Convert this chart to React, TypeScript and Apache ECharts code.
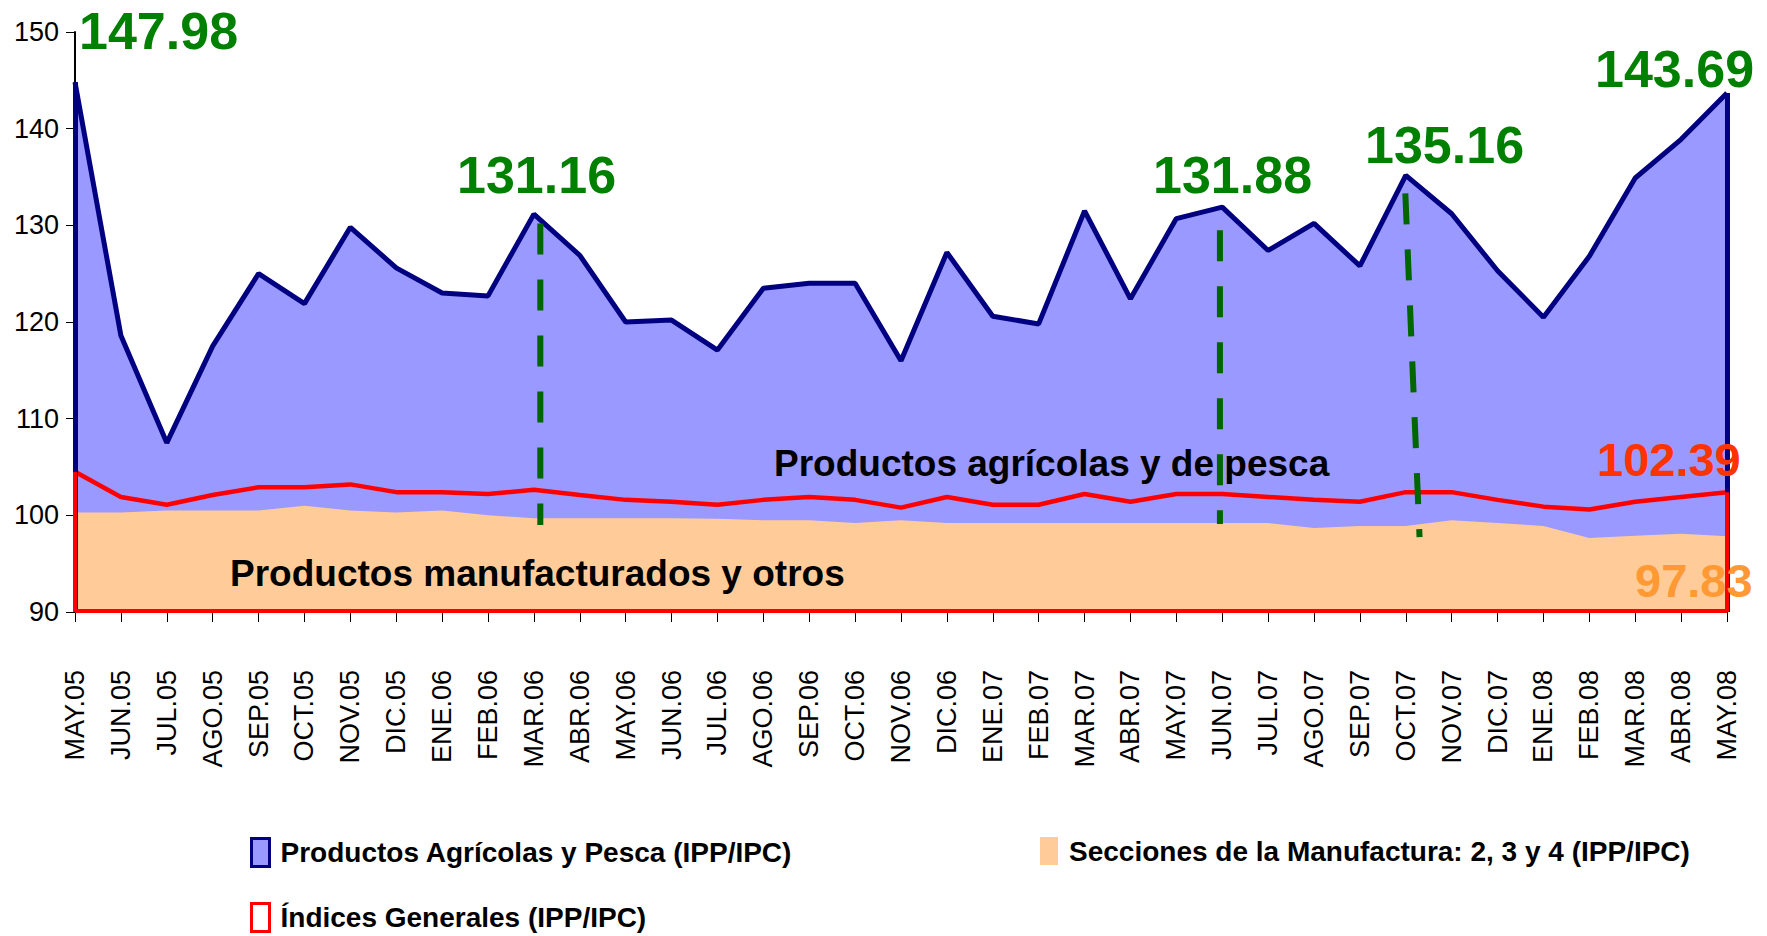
import React, { useEffect, useRef } from 'react';
import * as echarts from 'echarts';

const categories = ['MAY.05','JUN.05','JUL.05','AGO.05','SEP.05','OCT.05','NOV.05','DIC.05','ENE.06','FEB.06','MAR.06','ABR.06','MAY.06','JUN.06','JUL.06','AGO.06','SEP.06','OCT.06','NOV.06','DIC.06','ENE.07','FEB.07','MAR.07','ABR.07','MAY.07','JUN.07','JUL.07','AGO.07','SEP.07','OCT.07','NOV.07','DIC.07','ENE.08','FEB.08','MAR.08','ABR.08','MAY.08'];

const agricola = [144.8,118.6,107.5,117.5,125.0,121.9,129.8,125.6,123.0,122.7,131.16,126.9,120.0,120.2,117.1,123.5,124.0,124.0,116.0,127.2,120.6,119.8,131.5,122.4,130.7,131.88,127.4,130.2,125.8,135.16,131.2,125.3,120.5,126.8,134.9,138.9,143.69];

const manufactura = [100.3,100.3,100.5,100.5,100.5,101.0,100.5,100.3,100.5,100.0,99.7,99.7,99.7,99.7,99.65,99.5,99.5,99.2,99.5,99.2,99.2,99.2,99.2,99.2,99.2,99.2,99.2,98.7,98.9,98.9,99.5,99.2,98.9,97.65,97.9,98.1,97.83];

const generales = [104.5,101.9,101.1,102.1,102.9,102.9,103.2,102.4,102.4,102.2,102.65,102.1,101.6,101.4,101.1,101.6,101.9,101.6,100.8,101.9,101.1,101.1,102.2,101.4,102.2,102.2,101.9,101.6,101.4,102.4,102.4,101.6,100.9,100.6,101.4,101.9,102.39];

const seriesNames = [
  'Productos Agrícolas y Pesca (IPP/IPC)',
  'Secciones de la Manufactura: 2, 3 y 4 (IPP/IPC)',
  'Índices Generales (IPP/IPC)',
];

// dashed guide lines: [categoryIndex, value] pairs
const guideLines = [
  [[10.14, 130.2], [10.14, 99.0]],
  [[24.95, 129.5], [24.95, 99.1]],
  [[28.99, 133.3], [29.3, 97.75]],
];

const greenCallouts = ['147.98', '131.16', '131.88', '135.16', '143.69'];
const redCallout = '102.39';
const orangeCallout = '97.83';
const areaLabels = ['Productos agrícolas y de pesca', 'Productos manufacturados y otros'];

const Y_MIN = 90;
const Y_MAX = 150;
const Y_STEP = 10;

const sans = "'Liberation Sans', Arial, sans-serif";

export default function App() {
  const ref = useRef<HTMLDivElement>(null);
  useEffect(() => {
    if (!ref.current) return;
    const chart = echarts.init(ref.current, undefined, { renderer: 'svg' });
    const last = categories.length - 1;
    const edge = (x: string, y0: number, y1: number) => [
      { coord: [x, y0] },
      { coord: [x, y1] },
    ];
    const green = '#008000';
    const bigText = (text: string, x: number, y: number, color: string, size: number) => ({
      type: 'text',
      x,
      y,
      z: 100,
      style: {
        text,
        fill: color,
        fontSize: size,
        fontWeight: 'bold',
        fontFamily: sans,
        align: 'left',
        verticalAlign: 'middle',
        textAlign: 'left',
        textVerticalAlign: 'middle',
      },
    });
    const legendText = { fontFamily: sans, fontWeight: 'bold', fontSize: 28, color: '#000', padding: [0, 0, 0, 6] };
    const legendBox = (name: string, left: number, top: number, itemStyle: any) => ({
      left,
      top,
      padding: 0,
      itemWidth: 18,
      itemHeight: 28,
      selectedMode: false,
      textStyle: legendText,
      data: [{ name, icon: 'rect', itemStyle }],
    });

    const option: any = {
      animation: false,
      backgroundColor: '#ffffff',
      grid: { left: 75, right: 40, top: 32, bottom: 324, containLabel: false },
      xAxis: [
        {
          type: 'category',
          data: categories,
          boundaryGap: false,
          axisLine: { show: true, lineStyle: { color: '#000', width: 2 } },
          axisTick: { show: true, interval: 0, length: 10, lineStyle: { color: '#000', width: 1 } },
          axisLabel: {
            interval: 0,
            rotate: 90,
            margin: 58,
            color: '#000',
            fontFamily: sans,
            fontSize: 27,
          },
          splitLine: { show: false },
        },
        {
          type: 'value',
          min: 0,
          max: last,
          show: false,
        },
      ],
      yAxis: {
        type: 'value',
        min: Y_MIN,
        max: Y_MAX,
        interval: Y_STEP,
        axisLine: { show: true, lineStyle: { color: '#000', width: 2 } },
        axisTick: { show: true, length: 9, lineStyle: { color: '#000', width: 1 } },
        axisLabel: { color: '#000', fontFamily: sans, fontSize: 27, margin: 16 },
        splitLine: { show: false },
      },
      legend: [
        legendBox(seriesNames[0], 250, 837, { color: '#9999FF', borderColor: '#000080', borderWidth: 3 }),
        legendBox(seriesNames[1], 1040, 837, { color: '#FFCC99', borderWidth: 0 }),
        legendBox(seriesNames[2], 250, 902, { color: '#FFFFFF', borderColor: '#FF0000', borderWidth: 3 }),
      ],
      series: [
        {
          name: seriesNames[0],
          type: 'line',
          data: agricola,
          color: '#9999FF',
          symbol: 'none',
          z: 1,
          lineStyle: { color: '#000080', width: 5 },
          areaStyle: { color: '#9999FF', opacity: 1, origin: 'start' },
          markLine: {
            silent: true,
            symbol: 'none',
            label: { show: false },
            lineStyle: { color: '#000080', width: 5, type: 'solid' },
            data: [edge(categories[0], Y_MIN, agricola[0]), edge(categories[last], Y_MIN, agricola[last])],
          },
        },
        {
          name: seriesNames[1],
          type: 'line',
          data: manufactura,
          color: '#FFCC99',
          symbol: 'none',
          z: 2,
          lineStyle: { width: 0, color: '#FFCC99' },
          areaStyle: { color: '#FFCC99', opacity: 1, origin: 'start' },
        },
        {
          name: seriesNames[2],
          type: 'line',
          data: generales,
          color: '#FF0000',
          symbol: 'none',
          z: 3,
          lineStyle: { color: '#FF0000', width: 4.5 },
          markLine: {
            silent: true,
            symbol: 'none',
            label: { show: false },
            lineStyle: { color: '#FF0000', width: 4, type: 'solid' },
            data: [
              edge(categories[0], Y_MIN, generales[0]),
              edge(categories[last], Y_MIN, generales[last]),
              [{ coord: [categories[0], Y_MIN + 0.1] }, { coord: [categories[last], Y_MIN + 0.1] }],
            ],
          },
        },
        ...guideLines.map((pts, i) => ({
          name: 'guia' + i,
          type: 'line',
          xAxisIndex: 1,
          data: pts,
          symbol: 'none',
          z: 4,
          lineStyle: { color: '#006600', width: 6, type: [31, 25] },
        })),
      ],
      graphic: [
        bigText(greenCallouts[0], 79, 31, green, 52),
        bigText(greenCallouts[1], 457, 175, green, 52),
        bigText(greenCallouts[2], 1153, 175, green, 52),
        bigText(greenCallouts[3], 1365, 145, green, 52),
        bigText(greenCallouts[4], 1595, 69, green, 52),
        bigText(redCallout, 1597, 459, '#FF3300', 47),
        bigText(orangeCallout, 1635, 580, '#FF9933', 47),
        bigText(areaLabels[0], 774, 463, '#000', 37),
        bigText(areaLabels[1], 230, 573, '#000', 37),
      ],
    };
    chart.setOption(option);
    return () => chart.dispose();
  }, []);
  return <div ref={ref} style={{ position: 'fixed', left: 0, top: 0, width: 1767, height: 936 }} />;
}
